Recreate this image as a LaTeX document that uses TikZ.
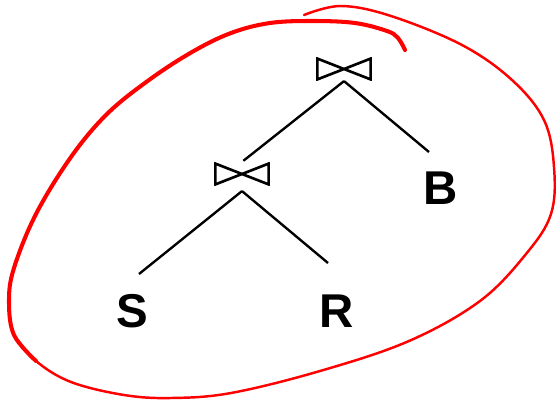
\documentclass[tikz,border=0pt]{standalone}
\usepackage{fontspec}
\setmainfont{Liberation Sans}
\usetikzlibrary{positioning}

\begin{document}
\begin{tikzpicture}[
    x=0.02cm, y=-0.02cm,
    joinop/.style={rectangle, inner sep=0, minimum width=1.12cm, minimum height=0.47cm,
        path picture={\draw[line width=1.5pt, line join=miter]
            ([shift={(0.75pt,-0.75pt)}]path picture bounding box.north west) --
            ([shift={(-0.75pt,0.75pt)}]path picture bounding box.south east) --
            ([shift={(-0.75pt,-0.75pt)}]path picture bounding box.north east) --
            ([shift={(0.75pt,0.75pt)}]path picture bounding box.south west) -- cycle;}},
    rel/.style={inner sep=0, font=\fontsize{27}{31}\selectfont\bfseries},
    edge/.style={line width=1.35pt, draw=black},
    scribble/.style={draw=red, line cap=round, line join=round}
]
    \useasboundingbox (0,0) rectangle (556,400);

    % Join operators
    \node[joinop] (top) at (344,69) {};
    \node[joinop] (low) at (242,174) {};

    % Relations
    \node[rel] (B) at (441,188) {B};
    \node[rel] (S) at (132,311) {S};
    \node[rel] (R) at (337,311) {R};

    % Free ends of the tree edges
    \coordinate (bEnd) at (429,152);
    \coordinate (sEnd) at (139,274);
    \coordinate (rEnd) at (328,263);
    \path (low.south) ++(0,5) coordinate (lowTip);

    % Tree edges
    \draw[edge, shorten >=1pt] (top.south) -- (low.north);
    \draw[edge] (top.south) -- (bEnd);
    \draw[edge] (lowTip) -- (sEnd);
    \draw[edge] (lowTip) -- (rEnd);

    % Red circling stroke
    \draw[scribble, line width=1.4pt] plot[smooth, tension=0.6] coordinates {
        (14,335) (36,361) (71,382) (124,395) (171,398) (231,393) (320,371) (409,341)
        (480,301) (526,254) (551,214) (554,167) (544,120) (512,80) (462,45)
        (391,16) (341,6) (304,15)};
    \draw[scribble, line width=2.3pt] plot[smooth, tension=0.6] coordinates {
        (405,50) (398,38) (387,31) (355,23) (313,21) (270,23) (231,33) (192,52)
        (149,80) (107,114) (71,157) (36,214) (14,268) (9,301) (14,335) (36,361)};
\end{tikzpicture}
\end{document}
